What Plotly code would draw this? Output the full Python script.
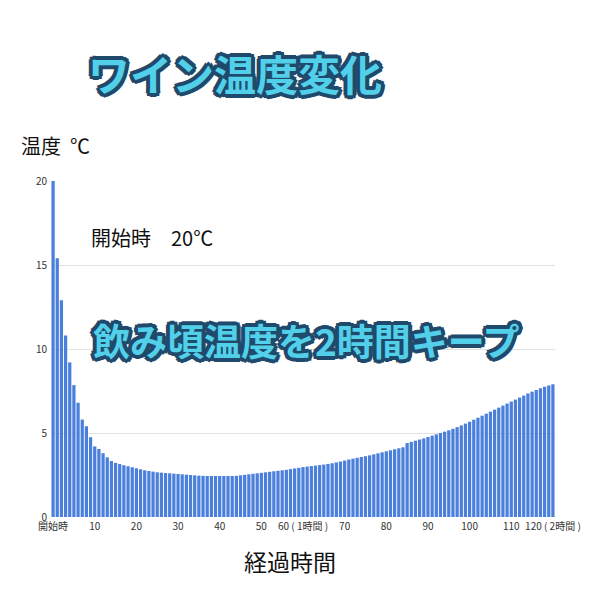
import plotly.graph_objects as go

# minutes after opening (0 = 開始時) and wine temperature in ℃
minutes = list(range(0, 121))
temps = [
    20.0, 15.4, 12.9, 10.8, 9.2, 7.85, 6.8, 5.8, 5.4, 4.75,
    4.2, 4.05, 3.8, 3.55, 3.33, 3.22, 3.15, 3.08, 3.02, 2.96,
    2.9, 2.84, 2.78, 2.74, 2.7, 2.66, 2.64, 2.62, 2.6, 2.58,
    2.56, 2.54, 2.52, 2.5, 2.48, 2.46, 2.45, 2.44, 2.44, 2.44,
    2.44, 2.44, 2.44, 2.44, 2.45, 2.48, 2.51, 2.54, 2.57, 2.6,
    2.63, 2.66, 2.69, 2.72, 2.75, 2.78, 2.81, 2.85, 2.89, 2.93,
    2.97, 3.0, 3.03, 3.06, 3.09, 3.12, 3.16, 3.2, 3.25, 3.3,
    3.36, 3.42, 3.47, 3.52, 3.57, 3.62, 3.67, 3.73, 3.79, 3.85,
    3.91, 3.97, 4.03, 4.09, 4.15, 4.4, 4.47, 4.54, 4.61, 4.68,
    4.76, 4.84, 4.92, 5.0, 5.08, 5.16, 5.25, 5.35, 5.45, 5.56,
    5.67, 5.79, 5.91, 6.03, 6.15, 6.27, 6.39, 6.51, 6.63, 6.75,
    6.87, 6.99, 7.11, 7.23, 7.35, 7.46, 7.56, 7.66, 7.75, 7.83,
    7.9,
]

x_tick_vals = [0, 10, 20, 30, 40, 50, 60, 70, 80, 90, 100, 110, 120]
x_tick_text = ["開始時", "10", "20", "30", "40", "50", "60 ( 1時間 )",
               "70", "80", "90", "100", "110", "120 ( 2時間 )"]
y_tick_vals = [0, 5, 10, 15, 20]

FONT = "Noto Sans CJK JP"

# fake a thick outline round the headline text with stacked text-shadows
outline_col = "#1f4a6b"
offsets = [(-3, 0), (3, 0), (0, -3), (0, 3), (-2, -2), (2, -2), (-2, 2), (2, 2),
           (-3, -1), (3, 1), (-1, 3), (1, -3), (3, -1), (-3, 1), (1, 3), (-1, -3),
           (-4, 0), (4, 0), (0, 4), (0, -4), (-3, -3), (3, 3), (-3, 3), (3, -3)]
outline = ", ".join(f"{dx}px {dy}px 0 {outline_col}" for dx, dy in offsets)

fig = go.Figure(go.Bar(
    x=minutes,
    y=temps,
    marker=dict(color="#4a7fdc", line=dict(width=0)),
    hoverinfo="x+y",
))

# page body has an 8px margin, so the margins are shifted to compensate
fig.update_layout(
    width=600,
    height=600,
    margin=dict(l=43, r=53, t=173, b=91),
    paper_bgcolor="white",
    plot_bgcolor="white",
    bargap=0.22,
    showlegend=False,
    font=dict(family=FONT, color="#333"),
)

fig.update_xaxes(
    range=[-0.5, 120.5],
    tickvals=x_tick_vals,
    ticktext=x_tick_text,
    tickangle=0,
    ticklabelstandoff=2,
    tickfont=dict(size=10, color="#333"),
    showgrid=False,
    zeroline=False,
    showline=False,
    ticks="",
)
fig.update_yaxes(
    range=[0, 20],
    tickvals=y_tick_vals,
    ticklabelstandoff=3,
    tickfont=dict(size=10, color="#333"),
    gridcolor="#e2e2e2",
    gridwidth=1,
    zeroline=False,
    showline=False,
    ticks="",
)

# text placed around the plot area
fig.add_annotation(text="温度  ℃", xref="paper", yref="paper", x=-0.064, y=1.107,
                   xanchor="left", yanchor="middle", showarrow=False,
                   font=dict(family=FONT, size=20, color="#111"))
fig.add_annotation(text="経過時間", xref="paper", yref="paper", x=0.474, y=-0.13,
                   xanchor="center", yanchor="middle", showarrow=False,
                   font=dict(family=FONT, size=23, color="#111"))
fig.add_annotation(text="開始時　20℃", xref="paper", yref="paper", x=0.075, y=0.833,
                   xanchor="left", yanchor="middle", showarrow=False,
                   font=dict(family=FONT, size=20, color="#111"))

# headline texts with cyan fill and navy outline
fig.add_annotation(text="<b>ワイン温度変化</b>", xref="paper", yref="paper", x=0.366, y=1.324,
                   xanchor="center", yanchor="middle", showarrow=False,
                   font=dict(family=FONT, size=42, color="#52d0ea", shadow=outline))
fig.add_annotation(text="<b>飲み頃温度を2時間キープ</b>", xref="paper", yref="paper", x=0.506, y=0.527,
                   xanchor="center", yanchor="middle", showarrow=False,
                   font=dict(family=FONT, size=37, color="#52d0ea", shadow=outline))

fig.write_html("out.html")
